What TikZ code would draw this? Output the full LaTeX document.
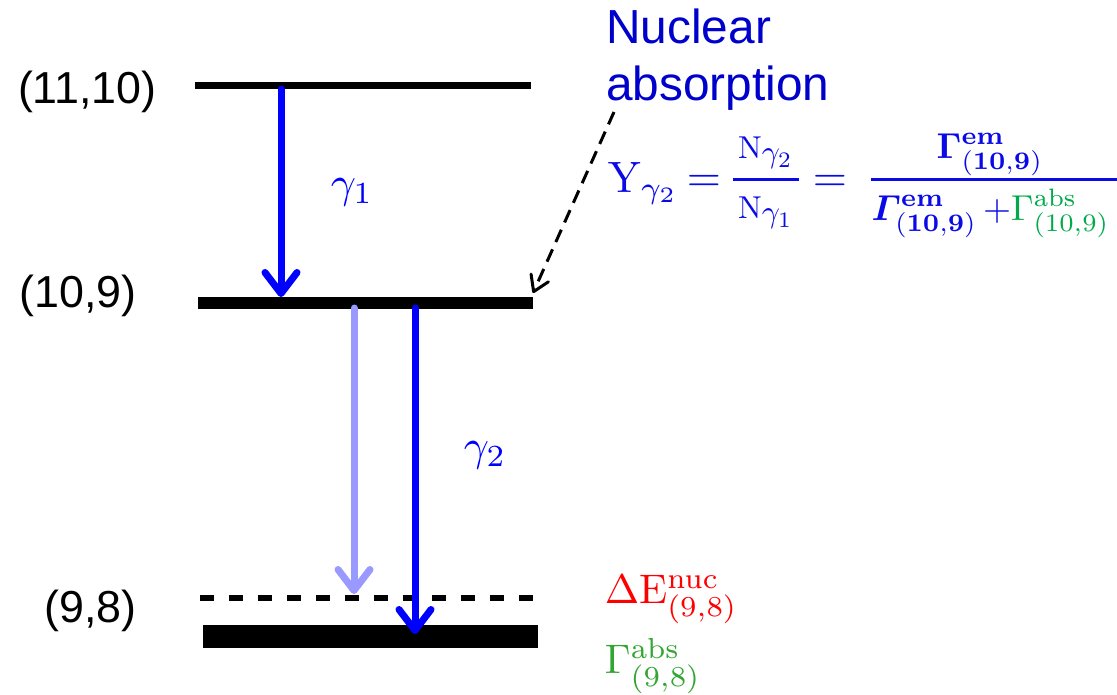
\documentclass[tikz,border=0pt]{standalone}
\usepackage{amsmath,bm}
\usepackage[no-math]{fontspec}
\setmainfont{Liberation Sans}
\usetikzlibrary{arrows.meta}
\definecolor{eqblue}{RGB}{10,10,230}
\definecolor{nucblue}{RGB}{0,0,204}
\definecolor{lightarrow}{RGB}{153,153,255}
\definecolor{absgreen}{RGB}{0,170,75}
\definecolor{absgreenb}{RGB}{50,165,50}
\tikzset{
  lvl/.style={line width=#1},
  lbl/.style={font=\fontsize{25.5}{30}\selectfont, inner sep=0pt, anchor=base east},
  nuclbl/.style={font=\fontsize{27.2}{33}\selectfont, inner sep=0pt, anchor=base west, text=nucblue},
  garrow/.style={line width=0.14cm, draw=#1, line cap=round,
    -{Straight Barb[length=0.42cm, width=0.64cm, line cap=round, line join=round]}},
  math/.style={inner sep=0pt, text=eqblue},
}
\begin{document}
\begin{tikzpicture}[x=0.02cm, y=-0.02cm]
\useasboundingbox (0,0) rectangle (1117,694);
% level coordinates
\coordinate (a1) at (195,85);  \coordinate (a2) at (531,85);
\coordinate (b1) at (198,303); \coordinate (b2) at (533,303);
\coordinate (c1) at (200,598); \coordinate (c2) at (536,598);
\coordinate (d1) at (203,636); \coordinate (d2) at (538,636);
% levels
\draw[lvl=0.14cm] (a1) -- (a2);
\draw[lvl=0.23cm] (b1) -- (b2);
\draw[lvl=0.13cm, dash pattern=on 0.29cm off 0.29cm] (c1) -- (c2);
\draw[lvl=0.46cm] (d1) -- (d2);
% level labels
\node[lbl] (l1) at (157,103) {(11,10)};
\node[lbl] (l2) at (137,307) {(10,9)};
\node[lbl] (l3) at (137,622) {(9,8)};
% arrow end points
\coordinate (g1s) at (281,89);  \coordinate (g1e) at (281,297);
\coordinate (ls)  at (354,308); \coordinate (le)  at (354,594);
\coordinate (g2s) at (415,308); \coordinate (g2e) at (415,634);
\draw[garrow=lightarrow] (ls) -- (le);
\draw[garrow=blue] (g1s) -- (g1e);
\draw[garrow=blue] (g2s) -- (g2e);
% gamma labels
\node[math, text=blue, scale=2.5] (gam1) at (352,192) {$\gamma_1$};
\node[math, text=blue, scale=2.5] (gam2) at (485,455) {$\gamma_2$};
% nuclear absorption
\node[nuclbl] (nuc1) at (606,43) {Nuclear};
\node[nuclbl] (nuc2) at (606,100) {absorption};
\coordinate (nucs) at (614,112);
\coordinate (nuce) at (533,293);
\draw[line width=0.06cm, dash pattern=on 0.27cm off 0.16cm,
  -{Straight Barb[length=0.3cm, width=0.38cm, line cap=round, line join=round]}] (nucs) -- (nuce);
% equation
\node[math, scale=2.5, anchor=base west] (Y) at (607,192) {$\mathrm{Y}_{\gamma_2}$};
\node[math, scale=2.5] (eq1) at (704,183) {$=$};
\node[math, scale=1.8, anchor=base] (num1) at (766,158) {$\mathrm{N}_{\textstyle\gamma_2}$};
\node[math, scale=1.8, anchor=base] (den1) at (766,218) {$\mathrm{N}_{\textstyle\gamma_1}$};
\coordinate (f1a) at (733,179); \coordinate (f1b) at (799,179);
\draw[eqblue, line width=0.06cm] (f1a) -- (f1b);
\node[math, scale=2.5] (eq2) at (830,183) {$=$};
\node[math, scale=2.05, anchor=base] (num2) at (990,158)
  {$\bm{\Gamma}^{\mathbf{em}}_{\mathbf{(10,9)}}$};
\node[math, scale=2.05, anchor=base west] (den2) at (871,220)
  {$\bm{\varGamma}^{\mathbf{em}}_{\mathbf{(10,9)}}\,{+}\textcolor{absgreen}{\Gamma^{\mathrm{abs}}_{(10,9)}}$};
\coordinate (f2a) at (871,179); \coordinate (f2b) at (1125,179);
\draw[eqblue, line width=0.06cm] (f2a) -- (f2b);
% right labels
\node[inner sep=0pt, scale=2.35, anchor=base west, text=red] (dE) at (604,603)
  {$\Delta\mathrm{E}^{\mathrm{nuc}}_{(9,8)}$};
\node[inner sep=0pt, scale=2.35, anchor=base west, text=absgreenb] (Gab) at (604,673)
  {$\Gamma^{\mathrm{abs}}_{(9,8)}$};
\end{tikzpicture}
\end{document}
